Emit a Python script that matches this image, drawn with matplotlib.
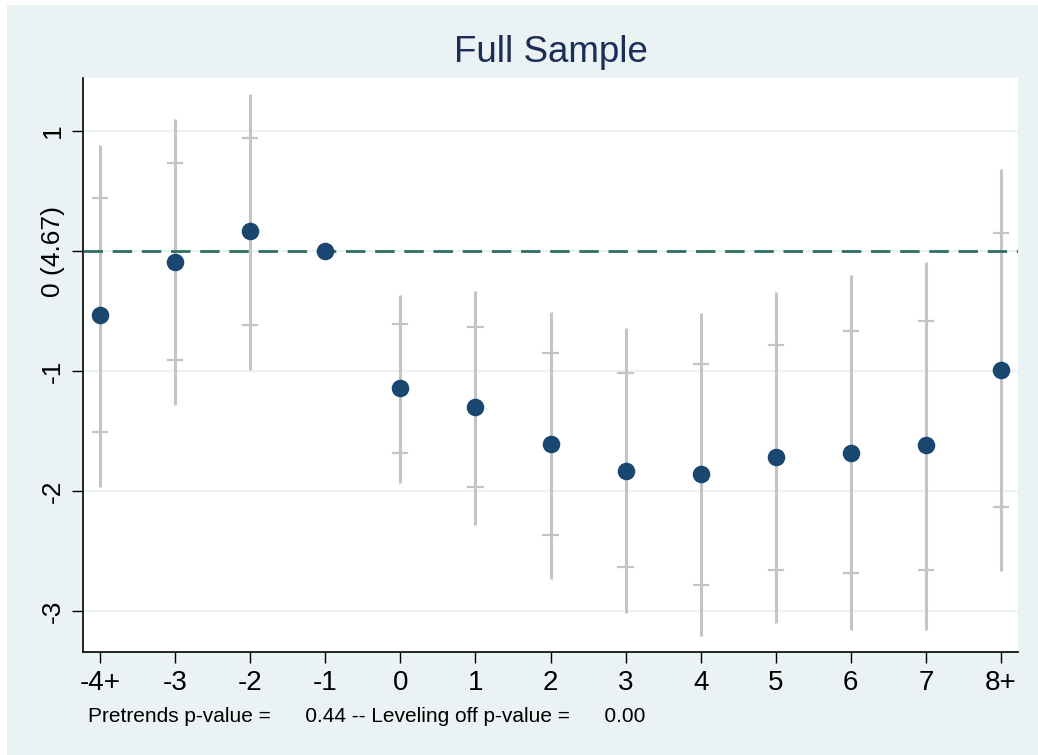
import matplotlib
matplotlib.use("Agg")
import matplotlib.pyplot as plt
from matplotlib.patches import Rectangle

plt.rcParams['font.family'] = ['Liberation Sans', 'DejaVu Sans']

labels = ["-4+", "-3", "-2", "-1", "0", "1", "2", "3", "4", "5", "6", "7", "8+"]
coef = [-0.53, -0.09, 0.17, 0.0, -1.14, -1.30, -1.61, -1.83, -1.86, -1.72, -1.68, -1.62, -0.99]
ci_outer_low = [-1.97, -1.28, -0.99, None, -1.93, -2.28, -2.73, -3.02, -3.21, -3.10, -3.16, -3.16, -2.67]
ci_outer_high = [0.88, 1.10, 1.31, None, -0.37, -0.33, -0.51, -0.64, -0.52, -0.34, -0.20, -0.09, 0.68]
ci_inner_low = [-1.51, -0.91, -0.62, None, -1.68, -1.97, -2.37, -2.63, -2.78, -2.66, -2.68, -2.66, -2.13]
ci_inner_high = [0.44, 0.73, 0.94, None, -0.61, -0.63, -0.85, -1.02, -0.94, -0.78, -0.67, -0.58, 0.15]
yticks = [1, 0, -1, -2, -3]
ytick_labels = ["1", "0 (4.67)", "-1", "-2", "-3"]
title = "Full Sample"
note = "Pretrends p-value =      0.44 -- Leveling off p-value =      0.00"

BG = "#EAF2F3"
fig = plt.figure(figsize=(10.38, 7.55), dpi=100)
fig.patch.set_facecolor("white")
W, H = 1038, 755
fig.patches.append(Rectangle((7 / W, 0), 1 - 7 / W, 1 - 5 / H, transform=fig.transFigure,
                             facecolor=BG, edgecolor="none", zorder=-10))

ax = fig.add_axes([83 / W, 1 - 652 / H, (1018 - 83) / W, (652 - 78) / H])
ax.set_facecolor("white")

x = list(range(len(labels)))
for i in x:
    if ci_outer_low[i] is None:
        continue
    ax.plot([i, i], [ci_outer_low[i], ci_outer_high[i]], color="#c4c4c4", lw=2.2,
            solid_capstyle="butt", zorder=2)
    for v in (ci_inner_low[i], ci_inner_high[i]):
        ax.plot([i - 0.095, i + 0.095], [v, v], color="#c4c4c4", lw=1.6, zorder=2)

ax.axhline(0, color="#2f6f62", lw=2.0, ls=(0, (7, 3.5)), zorder=3)
ax.scatter(x, coef, s=160, color="#1a476f", zorder=4, linewidths=0)

ax.set_xlim(-0.227, 12.227)
ax.set_ylim(-3.342, 1.442)
ax.set_yticks(yticks)
ax.set_yticklabels(ytick_labels, rotation=90, va="center", fontsize=19)
ax.set_xticks(x)
ax.set_xticklabels(labels, fontsize=20)
ax.grid(axis="y", color=BG, lw=1.6, zorder=0)
ax.set_axisbelow(True)
for s in ("top", "right"):
    ax.spines[s].set_visible(False)
for s in ("left", "bottom"):
    ax.spines[s].set_color("black")
    ax.spines[s].set_linewidth(1.2)
ax.tick_params(axis="both", length=8, width=1.0, color="black", pad=5)

fig.text(0.5 * (83 + 1018) / W, 1 - 52 / H, title, ha="center", va="center",
         fontsize=26.5, color="#1c2d57")
fig.text(88 / W, 1 - 717 / H, note, ha="left", va="center", fontsize=15, color="black")

fig.savefig("out.png", dpi=100, facecolor=fig.get_facecolor())
